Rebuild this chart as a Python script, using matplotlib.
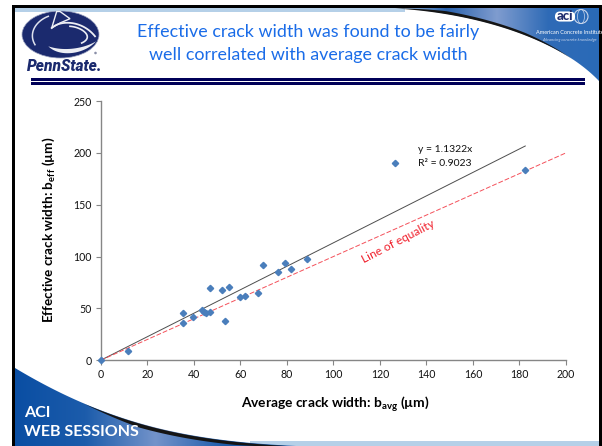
import numpy as np
import matplotlib
matplotlib.use("Agg")
import matplotlib.pyplot as plt
from matplotlib.patches import Ellipse, Polygon, Rectangle, FancyBboxPatch, Circle
from matplotlib.colors import LinearSegmentedColormap

avg_width = [0, 11.7, 35.4, 35.4, 39.6, 43.4, 44.4, 45.1, 47.1, 47.1, 52.0, 53.4,
             55.1, 59.9, 61.9, 67.6, 69.9, 76.4, 79.4, 82.0, 88.9, 126.5, 182.5]
eff_width = [0, 9.0, 45.2, 36.2, 42.0, 48.4, 47.0, 45.8, 46.5, 69.9, 67.6, 37.5,
             70.2, 60.9, 61.9, 65.0, 92.0, 85.6, 93.9, 87.8, 98.0, 190.0, 183.5]
trend_slope = 1.1322
trend_x = [0, 182.5]
equality_x = [0, 200]
x_ticks = list(range(0, 201, 20))
y_ticks = list(range(0, 251, 50))

W, H = 602, 446
plt.rcParams['font.family'] = ['Lato', 'DejaVu Sans']
plt.rcParams['mathtext.fontset'] = 'custom'
plt.rcParams['mathtext.rm'] = 'Lato'
plt.rcParams['mathtext.bf'] = 'Lato:bold'
plt.rcParams['mathtext.default'] = 'regular'

fig = plt.figure(figsize=(W/100, H/100), dpi=100, facecolor='white')

# ---------- slide decoration (pixel coordinates) ----------
bg = fig.add_axes([0, 0, 1, 1], zorder=0)
bg.set_xlim(0, W); bg.set_ylim(H, 0); bg.axis('off')

def bez(p0, p1, p2, p3, n=80):
    t = np.linspace(0, 1, n)[:, None]
    p0, p1, p2, p3 = map(np.array, (p0, p1, p2, p3))
    return (1-t)**3*p0 + 3*(1-t)**2*t*p1 + 3*(1-t)*t**2*p2 + t**3*p3

# light bands
bg.add_patch(Rectangle((15, 8), 390, 3.5, fc='#b5d0e8', ec='none', zorder=1))
bg.add_patch(Rectangle((250, 441), 350, 5, fc='#b5d0e8', ec='none', zorder=1))

# top-right swoosh
cm_tr = LinearSegmentedColormap.from_list('tr', ['#b5d0e8', '#2a62ad', '#7f9ccf', '#2f6bb6', '#2a6ab8'])
tr = bez((395, 8), (480, 13), (560, 40), (599, 81))
tr_poly = Polygon(np.vstack([tr, [[599, 8]]]), closed=True, fc='none', ec='none', transform=bg.transData)
bg.add_patch(tr_poly)
im = bg.imshow(np.linspace(0, 1, 256)[None, :], extent=(395, 599, 81, 8), cmap=cm_tr,
               aspect='auto', zorder=2)
im.set_clip_path(tr_poly)
t_tr = np.linspace(0, 1, 80)
thick = np.interp(t_tr, [0, 0.2, 0.55, 0.8], [0, 3, 2.5, 0])
bg.fill_between(tr[:, 0], tr[:, 1] - thick, tr[:, 1], color='#151515', lw=0, zorder=3)

# bottom-left swoosh
cm_bl = LinearSegmentedColormap.from_list('bl', ['#0a4ea3', '#1c5cab', '#7393ca', '#1d5cab', '#0d4fa2'])
bl = bez((15, 368), (110, 425), (190, 441), (296, 446))
bl_poly = Polygon(np.vstack([bl, [[15, 446]]]), closed=True, fc='none', ec='none', transform=bg.transData)
bg.add_patch(bl_poly)
im2 = bg.imshow(np.linspace(0, 1, 256)[None, :], extent=(15, 296, 446, 368), cmap=cm_bl,
                aspect='auto', zorder=2)
im2.set_clip_path(bl_poly)
t_bl = np.linspace(0, 1, 80)
thick2 = np.interp(t_bl, [0.25, 0.45, 0.8, 1], [0, 4, 3, 0.5])
bg.fill_between(bl[:, 0], bl[:, 1], bl[:, 1] + thick2, color='#151515', lw=0, zorder=3)

# slide frame
bg.add_patch(Rectangle((0, 0), W, 5, fc='white', ec='none', zorder=4))
bg.add_patch(Rectangle((12, 5), W-12, 3, fc='black', ec='none', zorder=5))
bg.add_patch(Rectangle((12, 5), 3, H-5, fc='black', ec='none', zorder=5))
bg.add_patch(Rectangle((599, 5), 3, H-5, fc='black', ec='none', zorder=5))
bg.add_patch(Rectangle((0, 0), 12, H, fc='white', ec='none', zorder=4))

# double rule
bg.add_patch(Rectangle((31, 78), 554, 3, fc='#000058', ec='none', zorder=4))
bg.add_patch(Rectangle((31, 82), 554, 3, fc='#000058', ec='none', zorder=4))

# logo
navy = '#1b2a6e'
lion = '#eceef4'
bg.add_patch(Ellipse((60.5, 34.5), 77, 47, fc=navy, ec='#9aa1bf', lw=0.5, zorder=4))
arc_a = bez((35, 44.7), (28, 33), (36, 21), (48.3, 16.3), 30)
bg.plot(arc_a[:, 0], arc_a[:, 1], color='#dfe2ee', lw=1.1, zorder=6)
bg.add_patch(Polygon([(51.7, 28), (56.7, 11.5), (60, 11.5), (70, 18.7), (60, 23)], closed=True,
                     fc=navy, ec=lion, lw=1.0, zorder=6))
head = bez((51.7, 28), (60, 20), (82, 20), (95, 36.3), 30)
bg.plot(head[:, 0], head[:, 1], color=lion, lw=1.3, zorder=6)
inner = bez((70, 26.3), (82, 27), (95, 37), (81.7, 43), 30)
bg.plot(inner[:, 0], inner[:, 1], color=lion, lw=1.2, zorder=6)
cres_out = bez((48.3, 46.3), (60, 58), (85, 54), (96, 41.3), 30)
cres_in = bez((96, 41.3), (85, 48), (65, 52), (48.3, 46.3), 30)
bg.add_patch(Polygon(np.vstack([cres_out, cres_in]), closed=True, fc=lion, ec='none', zorder=6))
bg.add_patch(Circle((95.5, 53), 1.3, fc='#8a8fa8', ec='none', zorder=6))
bg.text(65, 66.5, 'PennState.', color=navy, fontsize=11.2, fontweight='black', style='italic',
        family=['Roboto', 'DejaVu Sans'], ha='center', va='center', zorder=6)

# title
title_c = '#1a6ce8'
bg.text(308, 32, 'Effective crack width was found to be fairly', color=title_c, fontsize=12.9,
        ha='center', va='center', zorder=6)
bg.text(308, 55, 'well correlated with average crack width', color=title_c, fontsize=12.9,
        ha='center', va='center', zorder=6)

# ACI logo
bg.add_patch(Circle((581, 16.5), 7, fc='none', ec='#c9d6ec', lw=0.8, zorder=6))
bg.add_patch(Ellipse((581, 16.5), 7, 14, fc='none', ec='#c9d6ec', lw=0.5, zorder=6))
bg.add_patch(FancyBboxPatch((556, 12.5), 18, 8, boxstyle='round,pad=0,rounding_size=4', fc='white',
                            ec='white', lw=1.5, zorder=6))
bg.text(565, 16, 'aci', color='#1f2d6e', fontsize=9.5, fontweight='black', ha='center', va='center', zorder=7)
bg.text(569.5, 33, 'American Concrete Institute', color='white', fontsize=4.0, ha='center', va='center', zorder=7)
bg.text(569.5, 39.5, 'Advancing concrete knowledge', color='#c4d2ea', fontsize=3.1, style='italic',
        ha='center', va='center', zorder=7)

# ACI web sessions
bg.text(24, 413, 'ACI', color='white', fontsize=11.5, fontweight='bold', ha='left', va='center', zorder=7)
bg.text(24, 432.5, 'WEB SESSIONS', color='white', fontsize=11.5, fontweight='bold', ha='left', va='center', zorder=7)

# ---------- chart ----------
x0, x1, ytop, ybot = 100.6, 566.0, 101.0, 360.3
ax = fig.add_axes([x0/W, 1-ybot/H, (x1-x0)/W, (ybot-ytop)/H], zorder=2)
ax.patch.set_alpha(0)
ax.set_xlim(0, 200); ax.set_ylim(0, 250)
for s in ('top', 'right'):
    ax.spines[s].set_visible(False)
for s in ('left', 'bottom'):
    ax.spines[s].set_color('#868686'); ax.spines[s].set_linewidth(1)
ax.set_xticks(x_ticks); ax.set_yticks(y_ticks)
ax.tick_params(axis='both', length=3.5, width=0.8, color='#868686', labelsize=7.6,
               labelcolor='#111111', pad=3)

xs = np.array(trend_x)
ax.plot(xs, trend_slope*xs, color='#4d4d4d', lw=0.7, zorder=3)
xe = np.array(equality_x)
ax.plot(xe, xe, color='#f4505a', lw=0.7, dashes=(5, 2), zorder=3)
ax.plot(avg_width, eff_width, ls='none', marker='D', ms=3.2, mfc='#4a7ebb', mec='#4a7ebb', zorder=4, clip_on=False)

ax.text(136.5, 203, 'y = 1.1322x', fontsize=7.5, color='#111111', va='center', ha='left')
ax.text(136.5, 190, 'R² = 0.9023', fontsize=7.5, color='#111111', va='center', ha='left')
ax.text(128, 115, 'Line of equality', color='#f0202c', fontsize=8.6, rotation=27.5,
        ha='center', va='center', rotation_mode='anchor')

bg.text(335, 404, r'Average crack width: $\mathbf{b_{avg}}$ (µm)', fontsize=9.9, fontweight='bold',
        color='black', ha='center', va='center', zorder=7)
bg.text(48.5, 229.5, r'Effective crack width: $\mathbf{b_{eff}}$ (µm)', fontsize=9.7, fontweight='bold',
        color='black', ha='center', va='center', rotation=90, zorder=7)

fig.savefig('out.png', dpi=100, facecolor='white')
